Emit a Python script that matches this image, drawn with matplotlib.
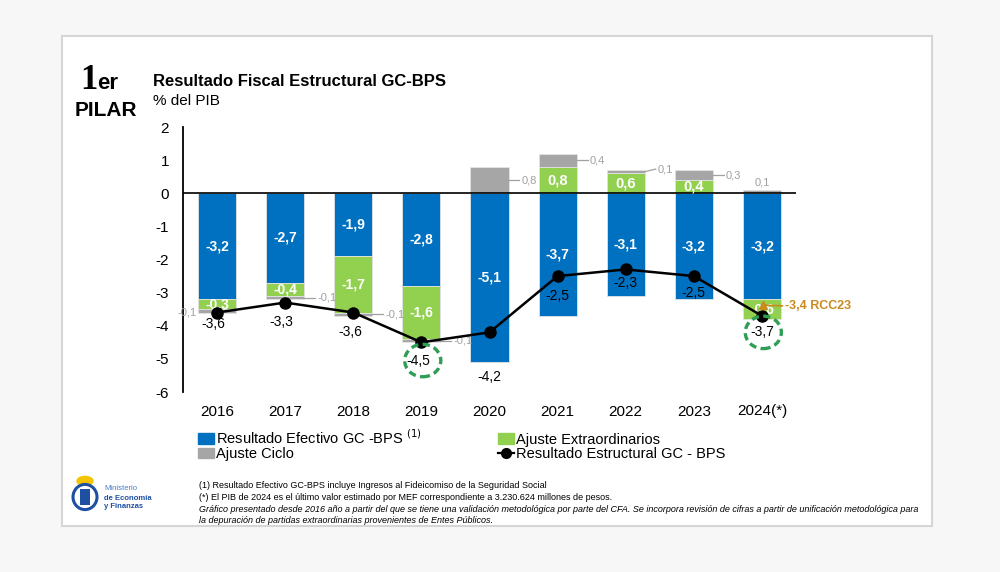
import matplotlib.pyplot as plt
from matplotlib.patches import Rectangle, Ellipse, Circle
from matplotlib.lines import Line2D
from matplotlib.patches import Patch

plt.rcParams['font.family'] = ['Liberation Sans', 'DejaVu Sans']

# data (% del PIB)
years = ['2016', '2017', '2018', '2019', '2020', '2021', '2022', '2023', '2024(*)']
efectivo = [-3.2, -2.7, -1.9, -2.8, -5.1, -3.7, -3.1, -3.2, -3.2]
extraord = [-0.3, -0.4, -1.7, -1.6, 0.0, 0.8, 0.6, 0.4, -0.6]
ciclo = [-0.1, -0.1, -0.1, -0.1, 0.8, 0.4, 0.1, 0.3, 0.1]
estructural = [-3.6, -3.3, -3.6, -4.5, -4.2, -2.5, -2.3, -2.5, -3.7]
rcc23 = -3.4
circled = ['2019', '2024(*)']

BLUE = '#0070C0'
GREEN = '#92D050'
GRAY = '#A6A6A6'
LGRAY = '#A0A0A0'
ORANGE = '#C98A1E'
DGREEN = '#2E9E55'


def fmt(v):
    return f'{v:.1f}'.replace('.', ',')


fig = plt.figure(figsize=(10, 5.72), dpi=100)
fig.patch.set_facecolor('#F7F7F7')
fig.patches.append(Rectangle((0.062, 1 - 526 / 572), 0.870, 490 / 572, transform=fig.transFigure,
                             facecolor='white', edgecolor='#D6D6D6', lw=1.5, zorder=-5))

ax = fig.add_axes([0.183, 1 - 392 / 572, 0.613, 265 / 572])
ax.set_facecolor('none')
x = list(range(len(years)))
w = 0.56

pos_b = [0.0] * len(x)
neg_b = [0.0] * len(x)
seg = {}
for name, vals, col in [('ef', efectivo, BLUE), ('ex', extraord, GREEN), ('ci', ciclo, GRAY)]:
    bottoms = []
    for i, v in enumerate(vals):
        if v >= 0:
            bottoms.append(pos_b[i])
            pos_b[i] += v
        else:
            bottoms.append(neg_b[i])
            neg_b[i] += v
    ax.bar(x, vals, w, bottom=bottoms, color=col, edgecolor='#E3E3E3', lw=0.6, zorder=2)
    seg[name] = bottoms

# labels inside bars
for i in x:
    ax.text(i, seg['ef'][i] + efectivo[i] / 2, fmt(efectivo[i]), ha='center', va='center',
            color='white', fontsize=10, fontweight='bold', zorder=5)
    if extraord[i] != 0:
        ax.text(i, seg['ex'][i] + extraord[i] / 2, fmt(extraord[i]), ha='center', va='center',
                color='white', fontsize=10.5 if extraord[i] > 0 else 10, fontweight='bold', zorder=5)

# ciclo labels with leaders
for i in x:
    mid = seg['ci'][i] + ciclo[i] / 2
    if i == 0:
        ax.text(i - w / 2 - 0.02, mid - 0.05, fmt(ciclo[i]), ha='right', va='center',
                color=LGRAY, fontsize=8, zorder=5)
    elif i == len(x) - 1:
        ax.text(i, mid + 0.28, fmt(ciclo[i]), ha='center', va='center', color=LGRAY, fontsize=8)
    else:
        dy = 0.08 if i == 6 else 0.0
        ax.plot([i + w / 2, i + w / 2 + 0.16], [mid, mid + dy], color=LGRAY, lw=0.9, zorder=5)
        ax.text(i + w / 2 + 0.19, mid + dy, fmt(ciclo[i]), ha='left', va='center',
                color=LGRAY, fontsize=8, zorder=5)

# structural line
ax.plot(x, estructural, color='black', lw=1.8, marker='o', ms=8, zorder=6)
label_drop = [0.35, 0.6, 0.6, 0.55, 0.0, 0.6, 0.4, 0.5, 0.5]
for i, v in enumerate(estructural):
    if i == 4:
        ly = neg_b[i] - 0.45
    else:
        ly = v - label_drop[i]
    ax.text(i - 0.05 if i < 4 else i, ly, fmt(v), ha='center', va='center', color='black',
            fontsize=10, zorder=7)
    if years[i] in circled:
        ax.add_patch(Ellipse((i + 0.02, ly), 0.53, 0.98, fill=False, ec=DGREEN, lw=2.4,
                             ls=(0, (2.2, 1.3)), zorder=7))

# RCC23 reference
i = len(x) - 1
ax.plot([i + 0.04, i + 0.3], [rcc23 + 0.02, rcc23], color=ORANGE, lw=1.2, zorder=7)
ax.plot(i + 0.02, rcc23 + 0.02, marker='^', color=ORANGE, ms=6, zorder=7)
ax.text(i + 0.34, rcc23, fmt(rcc23) + ' RCC23', ha='left', va='center', color=ORANGE,
        fontsize=9, fontweight='bold', zorder=7)

ax.axhline(0, color='black', lw=1.2, zorder=4)
ax.set_xlim(-0.5, len(x) - 0.5)
ax.set_ylim(-6, 2)
ax.set_yticks(range(-6, 3))
ax.set_yticklabels([str(t) for t in range(-6, 3)])
ax.set_xticks(x)
ax.set_xticklabels(years)
ax.tick_params(axis='both', length=0, labelsize=11)
ax.tick_params(axis='y', pad=10)
ax.tick_params(axis='x', pad=9)
for s in ['top', 'right', 'bottom']:
    ax.spines[s].set_visible(False)
ax.spines['left'].set_linewidth(1.3)

# titles
fig.text(0.080, 1 - 89 / 572, '1', fontsize=25, fontweight='bold', family='Liberation Serif',
         va='baseline', ha='left')
fig.text(0.097, 1 - 89 / 572, 'er', fontsize=16, fontweight='bold', va='baseline', ha='left')
fig.text(0.075, 1 - 110 / 572, 'PILAR', fontsize=15, fontweight='bold', va='center', ha='left')
fig.text(0.153, 1 - 81 / 572, 'Resultado Fiscal Estructural GC-BPS', fontsize=12,
         fontweight='bold', va='center', ha='left')
fig.text(0.153, 1 - 101 / 572, '% del PIB', fontsize=11, va='center', ha='left')

# legend
handles = [Patch(color=BLUE), Patch(color=GRAY), Patch(color=GREEN),
           Line2D([], [], color='black', marker='o', ms=7, lw=1.6)]
labels = ['Resultado Efectivo GC -BPS $^{(1)}$', 'Ajuste Ciclo', 'Ajuste Extraordinarios',
          'Resultado Estructural GC - BPS']
fig.legend(handles, labels, ncol=2, loc='upper left', bbox_to_anchor=(0.198, 1 - 428 / 572),
           frameon=False, fontsize=10.5, handlelength=1.1, handleheight=0.7, handletextpad=0.15,
           columnspacing=5.2, labelspacing=0.05, borderaxespad=0, borderpad=0)

# footnotes
notes = [('(1) Resultado Efectivo GC-BPS incluye Ingresos al Fideicomiso de la Seguridad Social', 'normal'),
         ('(*) El PIB de 2024 es el último valor estimado por MEF correspondiente a 3.230.624 millones de pesos.', 'normal'),
         ('Gráfico presentado desde 2016 año a partir del que se tiene una validación metodológica por parte del CFA. '
          'Se incorpora revisión de cifras a partir de unificación metodológica para', 'italic'),
         ('la depuración de partidas extraordinarias provenientes de Entes Públicos.', 'italic')]
for k, (t, st) in enumerate(notes):
    fig.text(0.199, 1 - (486 + 11.5 * k) / 572, t, fontsize=6.5, style=st, va='center', ha='left')

# ministry logo
fig.patches.append(Circle((0.085, 1 - 481 / 572), 0.008, transform=fig.transFigure,
                          color='#F5C400', zorder=3))
fig.patches.append(Ellipse((0.085, 1 - 497 / 572), 0.024, 0.044, transform=fig.transFigure,
                           facecolor='white', edgecolor='#1F4FA3', lw=2.2, zorder=4))
fig.patches.append(Rectangle((0.080, 1 - 505 / 572), 0.010, 0.028, transform=fig.transFigure,
                             facecolor='#1F4FA3', zorder=5))
fig.text(0.104, 1 - 489 / 572, 'Ministerio', fontsize=5.5, color='#4A7CC9', va='center')
fig.text(0.104, 1 - 498 / 572, 'de Economía', fontsize=5.5, color='#1F4FA3', fontweight='bold', va='center')
fig.text(0.104, 1 - 507 / 572, 'y Finanzas', fontsize=5.5, color='#1F4FA3', fontweight='bold', va='center')

fig.savefig('out.png', dpi=100, facecolor=fig.get_facecolor())
